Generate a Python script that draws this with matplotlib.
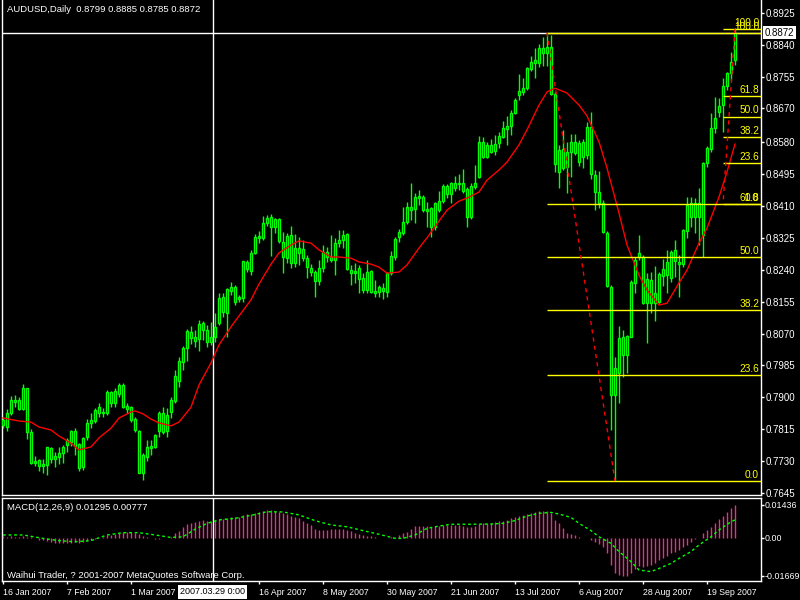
import numpy as np
import pandas as pd
import matplotlib
matplotlib.use('Agg')
import matplotlib.pyplot as plt
import matplotlib.transforms as mtransforms

plt.rcParams['font.family'] = ['Liberation Sans', 'DejaVu Sans']

# daily bars, AUDUSD 2007
dates = pd.bdate_range('2007-01-16', periods=184)

opens = [.7827, .7821, .7858, .7893, .7893, .7869, .7925, .7808, .7725, .7733,
         .7717, .7720, .7765, .7736, .7741, .7752, .7773, .7781, .7811, .7776,
         .7714, .7794, .7832, .7837, .7858, .7861, .7858, .7914, .7885, .7909,
         .7933, .7877, .7874, .7842, .7811, .7698, .7741, .7765, .7767, .7811,
         .7858, .7811, .7861, .7890, .7944, .7994, .8032, .8074, .8061, .8055,
         .8098, .8080, .8048, .8061, .8098, .8167, .8125, .8183, .8194, .8162,
         .8165, .8261, .8237, .8285, .8325, .8325, .8365, .8381, .8354, .8375,
         .8314, .8271, .8333, .8258, .8298, .8295, .8271, .8245, .8234, .8210,
         .8245, .8287, .8274, .8266, .8311, .8319, .8335, .8239, .8231, .8245,
         .8218, .8186, .8237, .8183, .8181, .8191, .8181, .8231, .8274, .8327,
         .8338, .8367, .8407, .8402, .8431, .8434, .8402, .8405, .8354, .8399,
         .8423, .8463, .8442, .8471, .8469, .8471, .8455, .8381, .8461, .8487,
         .8581, .8541, .8573, .8557, .8578, .8594, .8615, .8623, .8658, .8706,
         .8714, .8724, .8775, .8791, .8791, .8831, .8818, .8834, .8709, .8501,
         .8562, .8514, .8554, .8581, .8527, .8541, .8546, .8621, .8493, .8447,
         .8418, .8338, .8194, .7906, .7965, .8061, .8013, .8061, .8205, .8274,
         .8274, .8151, .8213, .8151, .8154, .8223, .8226, .8218, .8293, .8261,
         .8255, .8343, .8418, .8381, .8418, .8333, .8525, .8562, .8618, .8661,
         .8679, .8730, .8765, .8799]
highs = [.7848, .7869, .7904, .7906, .7901, .7936, .7925, .7816, .7744, .7736,
         .7736, .7767, .7767, .7754, .7767, .7773, .7792, .7813, .7819, .7778,
         .7794, .7842, .7858, .7872, .7885, .7872, .7920, .7917, .7925, .7938,
         .7938, .7885, .7877, .7848, .7813, .7752, .7786, .7786, .7802, .7864,
         .7874, .7872, .7901, .7973, .8008, .8037, .8082, .8090, .8080, .8106,
         .8103, .8093, .8101, .8125, .8178, .8178, .8192, .8207, .8200, .8173,
         .8263, .8266, .8293, .8335, .8343, .8383, .8386, .8389, .8378, .8378,
         .8341, .8338, .8357, .8335, .8327, .8319, .8279, .8255, .8239, .8266,
         .8306, .8301, .8333, .8325, .8346, .8346, .8338, .8253, .8258, .8253,
         .8231, .8266, .8239, .8213, .8200, .8205, .8234, .8290, .8327, .8349,
         .8407, .8421, .8471, .8445, .8453, .8439, .8421, .8407, .8421, .8450,
         .8469, .8469, .8474, .8490, .8495, .8509, .8461, .8471, .8519, .8597,
         .8594, .8581, .8589, .8599, .8607, .8637, .8650, .8666, .8698, .8762,
         .8751, .8781, .8810, .8831, .8842, .8861, .8871, .8866, .8714, .8573,
         .8613, .8581, .8602, .8602, .8586, .8589, .8634, .8661, .8506, .8503,
         .8426, .8343, .8200, .8008, .8090, .8080, .8066, .8213, .8274, .8333,
         .8279, .8231, .8234, .8250, .8234, .8269, .8293, .8293, .8319, .8279,
         .8349, .8434, .8434, .8431, .8458, .8527, .8570, .8658, .8701, .8698,
         .8751, .8767, .8820, .8885]
lows = [.7819, .7811, .7853, .7874, .7866, .7866, .7789, .7722, .7717, .7704,
        .7698, .7693, .7725, .7714, .7722, .7725, .7754, .7770, .7746, .7704,
        .7706, .7786, .7819, .7832, .7848, .7848, .7853, .7874, .7874, .7901,
        .7872, .7858, .7834, .7808, .7698, .7680, .7730, .7746, .7765, .7794,
        .7802, .7794, .7845, .7885, .7928, .7973, .7997, .8042, .8034, .8024,
        .8053, .8034, .8040, .8048, .8093, .8114, .8061, .8173, .8146, .8154,
        .8154, .8234, .8226, .8282, .8311, .8319, .8357, .8277, .8338, .8311,
        .8231, .8258, .8245, .8247, .8253, .8263, .8218, .8223, .8167, .8199,
        .8234, .8261, .8261, .8226, .8301, .8298, .8239, .8199, .8205, .8178,
        .8178, .8178, .8178, .8167, .8167, .8162, .8167, .8226, .8266, .8314,
        .8333, .8362, .8373, .8365, .8413, .8394, .8354, .8327, .8346, .8394,
        .8418, .8431, .8418, .8450, .8453, .8445, .8354, .8375, .8455, .8485,
        .8538, .8538, .8551, .8546, .8565, .8591, .8573, .8599, .8655, .8693,
        .8706, .8719, .8770, .8751, .8780, .8783, .8783, .8706, .8501, .8458,
        .8506, .8445, .8487, .8546, .8517, .8511, .8535, .8482, .8399, .8405,
        .8338, .8194, .7813, .7677, .7885, .7954, .7965, .8061, .8178, .8266,
        .8149, .8045, .8125, .8103, .8151, .8197, .8178, .8207, .8221, .8167,
        .8247, .8325, .8354, .8338, .8306, .8274, .8514, .8554, .8605, .8647,
        .8607, .8719, .8746, .8785]
closes = [.7840, .7858, .7893, .7888, .7869, .7925, .7808, .7725, .7730, .7717,
          .7722, .7767, .7736, .7744, .7752, .7767, .7786, .7811, .7770, .7712,
          .7792, .7832, .7840, .7866, .7874, .7858, .7914, .7885, .7917, .7933,
          .7874, .7869, .7840, .7813, .7698, .7746, .7767, .7770, .7800, .7858,
          .7808, .7853, .7893, .7957, .7997, .8032, .8077, .8058, .8050, .8095,
          .8080, .8048, .8061, .8088, .8165, .8127, .8189, .8194, .8154, .8167,
          .8263, .8242, .8285, .8327, .8330, .8365, .8378, .8354, .8375, .8317,
          .8274, .8330, .8258, .8298, .8285, .8271, .8247, .8234, .8210, .8245,
          .8287, .8274, .8266, .8311, .8319, .8333, .8242, .8231, .8237, .8215,
          .8186, .8234, .8181, .8178, .8194, .8183, .8231, .8277, .8322, .8341,
          .8367, .8407, .8399, .8434, .8437, .8399, .8397, .8354, .8418, .8423,
          .8463, .8442, .8471, .8458, .8471, .8450, .8381, .8463, .8471, .8581,
          .8541, .8573, .8554, .8575, .8597, .8618, .8623, .8658, .8693, .8717,
          .8724, .8778, .8794, .8799, .8831, .8818, .8834, .8709, .8522, .8559,
          .8511, .8554, .8581, .8551, .8578, .8581, .8621, .8495, .8447, .8418,
          .8341, .8197, .7906, .7978, .8058, .8013, .8063, .8207, .8266, .8285,
          .8151, .8215, .8151, .8178, .8229, .8242, .8261, .8287, .8263, .8255,
          .8346, .8413, .8381, .8418, .8381, .8525, .8565, .8618, .8645, .8677,
          .8730, .8765, .8794, .8872]

# moving average (red line), read at selected bars
ma_idx = [0, 4, 7, 9, 12, 14, 17, 19, 22, 24, 27, 29, 32, 33, 35, 37, 39, 42, 44, 47,
          49, 52, 54, 57, 59, 62, 64, 67, 69, 72, 74, 77, 79, 82, 84, 87, 89, 92, 94, 96,
          99, 101, 104, 106, 109, 111, 114, 116, 119, 121, 124, 126, 129, 131, 134, 136,
          138, 141, 144, 146, 149, 151, 154, 156, 159, 161, 164, 166, 169, 171, 174, 176,
          179, 181, 183]
ma_vals = [.7845, .7837, .7834, .7821, .7813, .7797, .7778, .7760, .7768, .7792, .7818,
           .7845, .7861, .7864, .7856, .7842, .7832, .7824, .7834, .7874, .7933, .7992,
           .8040, .8088, .8117, .8160, .8202, .8255, .8285, .8306, .8317, .8311, .8293,
           .8274, .8274, .8271, .8261, .8255, .8247, .8231, .8234, .8253, .8298, .8325,
           .8370, .8399, .8423, .8431, .8447, .8479, .8506, .8527, .8573, .8613, .8679,
           .8714, .8724, .8711, .8679, .8650, .8581, .8511, .8391, .8306, .8226, .8186,
           .8146, .8151, .8205, .8239, .8311, .8351, .8434, .8501, .8575]

# MACD(12,26,9) main values (histogram), one per bar
macd_main = [.0006, .0005, .0006, .0004, .0005, .0006, .0004, .0002, -.0002,
             -.0008, -.0012, -.0015, -.0018, -.0022, -.0024, -.0025, -.0024, -.0022,
             -.0020, -.0022, -.0018, -.0014, -.0010, -.0006, -.0002,
             .0004, .0010, .0014, .0018, .0022, .0024, .0026, .0025, .0022, .0016,
             .0006, .0001, -.0003, -.0005, -.0004, -.0003, -.0002, .0005,
             .0019, .0029, .0045, .0058, .0063, .0070, .0075, .0078, .0075, .0075,
             .0078, .0080, .0082, .0086, .0092, .0089, .0089, .0098, .0104, .0104,
             .0110, .0113, .0117, .0122, .0122, .0119, .0114, .0107, .0104, .0095,
             .0089, .0085, .0075, .0063, .0054, .0037, .0034, .0034, .0034, .0037,
             .0037, .0037, .0037, .0034, .0029, .0022, .0016, .0010, .0007, .0007,
             .0004, .0000, -.0003, .0000, .0001, .0002, .0010,
             .0019, .0023, .0037, .0051, .0051, .0051, .0051, .0045, .0051, .0051,
             .0055, .0055, .0055, .0055, .0055, .0051, .0048, .0048, .0051, .0060,
             .0063, .0063, .0066, .0069, .0072, .0074, .0078, .0085, .0089, .0095,
             .0100, .0104, .0110, .0114, .0117, .0117, .0117, .0107, .0078, .0063,
             .0041, .0022, .0016, .0012, .0004, .0000, -.0003, -.0010, -.0018, -.0028,
             -.0040, -.0069, -.0120, -.0154, -.0162, -.0167, -.0167, -.0157, -.0139, -.0124,
             -.0127, -.0124, -.0120, -.0110, -.0098, -.0091, -.0081, -.0069, -.0061, -.0054,
             -.0040, -.0032, -.0018, -.0007, -.0003, .0019, .0034, .0048, .0066, .0080,
             .0095, .0114, .0129, .0144]

# signal line, read at selected bars
sig_idx = [0, 5, 10, 14, 18, 22, 26, 30, 34, 38, 42, 45, 48, 51, 54, 58, 62, 66, 70, 74,
           78, 82, 86, 90, 94, 98, 100, 103, 106, 109, 112, 117, 122, 125, 128, 131, 134,
           137, 139, 142, 144, 147, 149, 152, 154, 157, 159, 162, 164, 167, 169, 172, 174,
           177, 179, 182, 183]
sig_vals = [.0012, .0012, -.0003, -.0013, -.0018, -.0013, .0012, .0022, .0022, .0012,
            .0001, .0004, .0037, .0063, .0078, .0085, .0098, .0114, .0113, .0100, .0075,
            .0056, .0048, .0031, .0015, -.0003, -.0003, .0012, .0041, .0051, .0059, .0059,
            .0060, .0063, .0075, .0095, .0107, .0111, .0104, .0089, .0063, .0031, .0004,
            -.0025, -.0061, -.0105, -.0142, -.0149, -.0135, -.0113, -.0091, -.0061, -.0032,
            .0004, .0034, .0070, .0078]

# Fibonacci retracements: (bar, price) of the two anchor points
fib_levels = [0.0, 23.6, 38.2, 50.0, 61.8, 100.0]
fib1_hi, fib1_lo = (136, .8872), (153, .7677)
fib2_hi, fib2_lo = (183, .8882), (180, .8415)

price_ticks = [.8925, .8840, .8755, .8670, .8580, .8495, .8410, .8325, .8240,
               .8155, .8070, .7985, .7900, .7815, .7730, .7645]
macd_ticks = [.01436, 0.0, -.01669]
macd_tick_labels = ['0.01436', '0.00', '-0.01669']

LIME = '#00ff00'
PINK = '#e8308a'
YELLOW = '#ffff00'

x = np.arange(len(dates))
o = np.array(opens)
c = np.array(closes)

fig = plt.figure(figsize=(8, 6), dpi=100, facecolor='black')
ax = fig.add_axes([2 / 800, 105 / 600, 759 / 800, 495 / 600], facecolor='black')
ax2 = fig.add_axes([2 / 800, 19 / 600, 759 / 800, 83.5 / 600], facecolor='black')

xlim = (-0.25, 189.5)
for a in (ax, ax2):
    a.set_xlim(*xlim)
    for s in a.spines.values():
        s.set_color('white')
        s.set_linewidth(1)
ax.spines['top'].set_visible(False)
ax.set_ylim(0.76398, 0.8959)
ax2.set_ylim(-0.01902, 0.01765)

# candles
ax.vlines(x, lows, highs, color=LIME, lw=1, zorder=3)
body_lo = np.minimum(o, c)
body_h = np.maximum(np.abs(c - o), 0.00005)
ax.bar(x, body_h, bottom=body_lo, width=0.5, facecolor='black',
       edgecolor=LIME, linewidth=1, zorder=4)

# moving average
ax.plot(ma_idx, ma_vals, color='red', lw=1, zorder=5)

# fibonacci objects
trans = mtransforms.blended_transform_factory(ax.transAxes, ax.transData)
for (hx, hp), (lx, lp) in [(fib1_hi, fib1_lo), (fib2_hi, fib2_lo)]:
    start = min(hx, lx)
    for lev in fib_levels:
        p = lp + (hp - lp) * lev / 100
        ax.hlines(p, start, xlim[1], color=YELLOW, lw=1, zorder=6)
        ax.text(0.9975, p + 0.0003, f'{lev:.1f}', transform=trans, ha='right',
                va='bottom', color=YELLOW, fontsize=7.3, zorder=7)
    ax.plot([hx, lx], [hp, lp], color='red', lw=1, ls=(0, (3, 3)), zorder=6)

# crosshair and current price
ax.axhline(closes[-1], color='white', lw=1, zorder=2)
cross_x = 52.5
ax.axvline(cross_x, color='white', lw=1, zorder=2)
ax2.axvline(cross_x, color='white', lw=1, zorder=2)
ax.text(1.0045, closes[-1], f'{closes[-1]:.4f}', transform=trans, ha='left',
        va='center', color='black', fontsize=7, zorder=10, clip_on=False,
        bbox=dict(facecolor='white', edgecolor='none', pad=1.2))

# price axis
ax.yaxis.tick_right()
ax.set_yticks(price_ticks)
ax.set_yticklabels([f'{v:.4f}' for v in price_ticks])
ax.tick_params(axis='y', colors='white', labelsize=7, length=2.2, width=1, pad=0.8)
ax.set_xticks([])

# MACD panel
ax2.vlines(x, 0, macd_main, color=PINK, lw=1, zorder=3)
ax2.plot(sig_idx, sig_vals, color=LIME, lw=1, ls=(0, (2, 2)), zorder=4)
ax2.yaxis.tick_right()
ax2.set_yticks(macd_ticks)
ax2.set_yticklabels(macd_tick_labels)
ax2.tick_params(axis='y', colors='white', labelsize=6.4, length=2.2, width=1, pad=0.6)

# time axis: a label every 16 bars, the one under the crosshair box left out
tick_pos = [i for i in range(0, len(dates), 16) if i != 48]
ax2.set_xticks(tick_pos)
ax2.set_xticklabels([f'{dates[i].day} {dates[i]:%b %Y}' for i in tick_pos], ha='left')
ax2.tick_params(axis='x', colors='white', labelsize=6.3, length=2.2, width=1, pad=2.8)

# texts
fig.text(7 / 800, 1 - 10 / 600, 'AUDUSD,Daily  0.8799 0.8885 0.8785 0.8872',
         color='white', fontsize=6.8, va='center', ha='left')
fig.text(7 / 800, 1 - 508 / 600, 'MACD(12,26,9) 0.01295 0.00777',
         color='white', fontsize=6.8, va='center', ha='left')
fig.text(7 / 800, 1 - 575 / 600, 'Waihui Trader, ? 2001-2007 MetaQuotes Software Corp.',
         color='white', fontsize=6.8, va='center', ha='left')
fig.text(212.5 / 800, 1 - 592 / 600, f'{dates[52]:%Y.%m.%d} 0:00', color='black',
         fontsize=6.5, ha='center', va='center', zorder=10,
         bbox=dict(facecolor='white', edgecolor='none', pad=1.5))

fig.savefig('out.png', dpi=100, facecolor='black')
